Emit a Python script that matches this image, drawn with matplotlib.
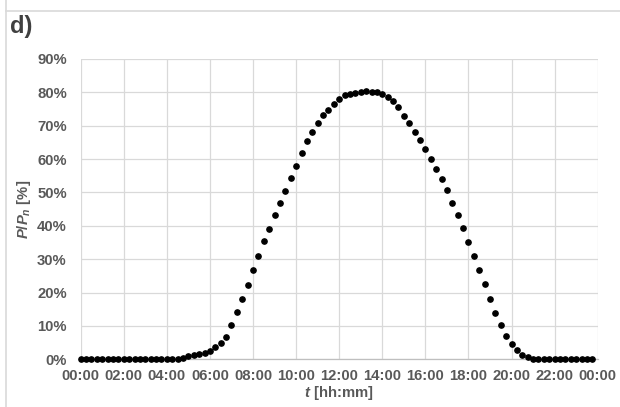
import numpy as np
import matplotlib
matplotlib.use("Agg")
import matplotlib.pyplot as plt
from matplotlib.lines import Line2D

plt.rcParams['font.family'] = ['Liberation Sans', 'DejaVu Sans']
plt.rcParams['mathtext.fontset'] = 'custom'
plt.rcParams['mathtext.it'] = 'Liberation Sans:italic:bold'
plt.rcParams['mathtext.rm'] = 'Liberation Sans:bold'

# time of day in hours, one point every 15 minutes
t_hours = np.arange(0, 24, 0.25)

# relative power P/Pn in %
p_rel = [
    0, 0, 0, 0, 0, 0, 0, 0,
    0, 0, 0, 0, 0, 0, 0, 0,
    0, 0, 0.1, 0.5, 0.9, 1.3, 1.6, 2.0,
    2.6, 3.6, 4.8, 6.7, 10.4, 14.2, 18.2, 22.4,
    26.9, 31.0, 35.4, 39.2, 43.2, 46.7, 50.4, 54.2,
    58.0, 61.7, 65.4, 68.1, 70.8, 73.1, 74.6, 76.6,
    78.0, 79.1, 79.6, 79.9, 80.1, 80.4, 80.2, 80.0,
    79.6, 78.7, 77.5, 75.5, 73.0, 70.9, 68.2, 65.8,
    63.0, 60.0, 57.0, 54.0, 50.8, 46.7, 43.3, 39.4,
    35.3, 31.0, 26.9, 22.5, 18.1, 14.0, 10.3, 7.1,
    4.6, 2.7, 1.4, 0.6, 0.1, 0, 0, 0,
    0, 0, 0, 0, 0, 0, 0, 0,
]

x_ticks = list(range(0, 25, 2))
x_labels = ['00:00', '02:00', '04:00', '06:00', '08:00', '10:00', '12:00',
            '14:00', '16:00', '18:00', '20:00', '22:00', '00:00']
y_ticks = list(range(0, 91, 10))
y_labels = [f'{v}%' for v in y_ticks]

txt = '#595959'
grid = '#d9d9d9'
fs = 10.7

fig = plt.figure(figsize=(6.2, 4.07), dpi=100)
ax = fig.add_axes([80.7 / 620, 1 - 359.3 / 407, 517 / 620, 300.3 / 407])

ax.plot(t_hours, p_rel, 'o', color='black', ms=3.8, clip_on=False, zorder=3)

ax.set_xlim(0, 24)
ax.set_ylim(0, 90)
ax.set_xticks(x_ticks)
ax.set_xticklabels(x_labels, fontweight='bold')
ax.set_yticks(y_ticks)
ax.set_yticklabels(y_labels, fontweight='bold')
ax.tick_params(length=0, labelsize=fs, labelcolor=txt)
ax.tick_params(axis='y', pad=10)
ax.tick_params(axis='x', pad=7)

ax.grid(True, color=grid, lw=0.9)
ax.set_axisbelow(True)
for s in ['top', 'right', 'left']:
    ax.spines[s].set_visible(False)
ax.spines['bottom'].set_color('#bfbfbf')
ax.spines['bottom'].set_linewidth(0.9)

ax.set_xlabel('$t$ [hh:mm]', fontsize=fs, color=txt, fontweight='bold', labelpad=1)
ax.set_ylabel('$P$/$P_n$ [%]', fontsize=fs, color=txt, fontweight='bold')
ax.yaxis.set_label_coords(-0.092, 0.5)

fig.text(10 / 620, 1 - 27 / 407, 'd)', fontsize=17, fontweight='bold',
         color='#404040', va='center', ha='left')

# chart frame edges
fig.add_artist(Line2D([6 / 620, 1], [1 - 10.7 / 407] * 2, transform=fig.transFigure,
                      color=grid, lw=1.2))
fig.add_artist(Line2D([6 / 620] * 2, [0, 1], transform=fig.transFigure,
                      color=grid, lw=1.2))

fig.savefig('out.png', dpi=100)
